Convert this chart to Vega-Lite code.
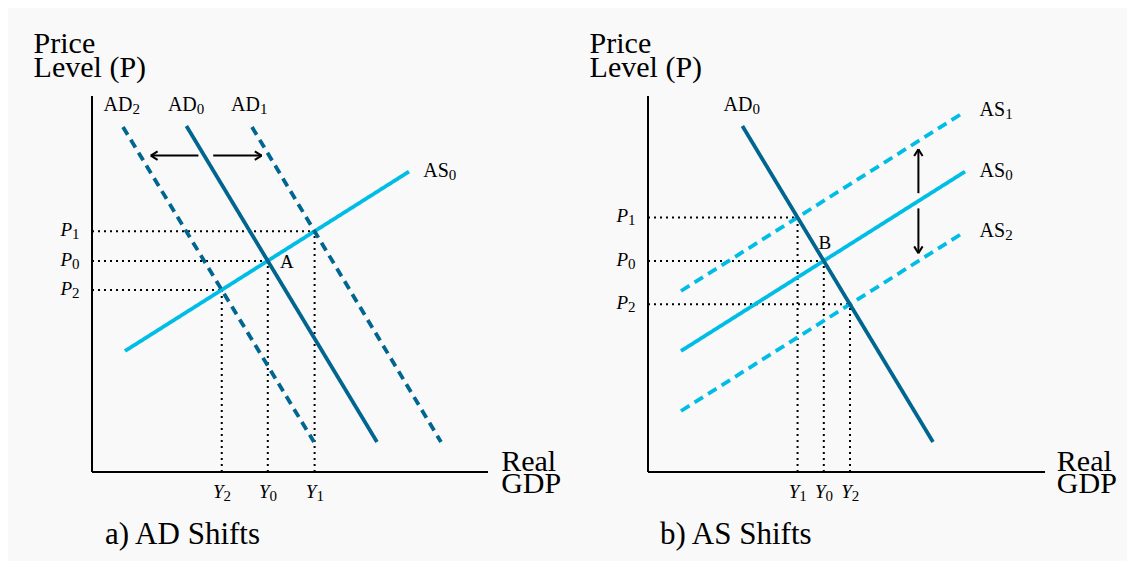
{
  "$schema": "https://vega.github.io/schema/vega-lite/v6.json",
  "background": "#ffffff",
  "padding": 8,
  "spacing": 0,
  "bounds": "flush",
  "config": {
    "view": {"stroke": null, "fill": "#f9f9f9"},
    "font": "Liberation Serif",
    "text": {"font": "Liberation Serif", "color": "#000000"}
  },
  "data": {
    "values": [
      {"panel": "a", "group": "guide", "x": 0, "y": 60.16, "x2": 55.65, "y2": 60.16},
      {"panel": "a", "group": "guide", "x": 0, "y": 52.77, "x2": 43.95, "y2": 52.77},
      {"panel": "a", "group": "guide", "x": 0, "y": 45.52, "x2": 32.44, "y2": 45.52},
      {"panel": "a", "group": "guide", "x": 55.65, "y": 0, "x2": 55.65, "y2": 60.16},
      {"panel": "a", "group": "guide", "x": 43.95, "y": 0, "x2": 43.95, "y2": 52.77},
      {"panel": "a", "group": "guide", "x": 32.44, "y": 0, "x2": 32.44, "y2": 45.52},
      {"panel": "a", "group": "curve", "series": "AS0", "x": 8.25, "y": 30.25, "x2": 79.25, "y2": 75.1},
      {"panel": "a", "group": "curve", "series": "AD2", "x": 7.75, "y": 86.25, "x2": 55.5, "y2": 7.5},
      {"panel": "a", "group": "curve", "series": "AD1", "x": 40, "y": 86.25, "x2": 87.25, "y2": 7.5},
      {"panel": "a", "group": "curve", "series": "AD0", "x": 23.6, "y": 86.5, "x2": 71.25, "y2": 7.5},
      {"panel": "a", "group": "frame", "x": 0, "y": 0, "x2": 0, "y2": 94},
      {"panel": "a", "group": "frame", "x": 0, "y": 0, "x2": 99, "y2": 0},
      {"panel": "a", "group": "arrow", "x": 26.6, "y": 79.1, "x2": 14.7, "y2": 79.1},
      {"panel": "a", "group": "arrow", "x": 14.7, "y": 79.1, "x2": 16.4, "y2": 80.15},
      {"panel": "a", "group": "arrow", "x": 14.7, "y": 79.1, "x2": 16.4, "y2": 78.05},
      {"panel": "a", "group": "arrow", "x": 30.3, "y": 79.1, "x2": 42.4, "y2": 79.1},
      {"panel": "a", "group": "arrow", "x": 42.4, "y": 79.1, "x2": 40.7, "y2": 80.15},
      {"panel": "a", "group": "arrow", "x": 42.4, "y": 79.1, "x2": 40.7, "y2": 78.05},

      {"panel": "b", "group": "guide", "x": 0, "y": 63.64, "x2": 37.39, "y2": 63.64},
      {"panel": "b", "group": "guide", "x": 0, "y": 52.77, "x2": 43.95, "y2": 52.77},
      {"panel": "b", "group": "guide", "x": 0, "y": 41.91, "x2": 50.5, "y2": 41.91},
      {"panel": "b", "group": "guide", "x": 37.39, "y": 0, "x2": 37.39, "y2": 63.64},
      {"panel": "b", "group": "guide", "x": 43.95, "y": 0, "x2": 43.95, "y2": 52.77},
      {"panel": "b", "group": "guide", "x": 50.5, "y": 0, "x2": 50.5, "y2": 41.91},
      {"panel": "b", "group": "curve", "series": "AS1", "x": 8.25, "y": 45.25, "x2": 79.25, "y2": 90.1},
      {"panel": "b", "group": "curve", "series": "AS2", "x": 8.25, "y": 15.25, "x2": 79.25, "y2": 60.1},
      {"panel": "b", "group": "curve", "series": "AS0", "x": 8.25, "y": 30.25, "x2": 79.25, "y2": 75.1},
      {"panel": "b", "group": "curve", "series": "AD0", "x": 23.6, "y": 86.5, "x2": 71.25, "y2": 7.5},
      {"panel": "b", "group": "frame", "x": 0, "y": 0, "x2": 0, "y2": 94},
      {"panel": "b", "group": "frame", "x": 0, "y": 0, "x2": 99.25, "y2": 0},
      {"panel": "b", "group": "arrow", "x": 67.6, "y": 69.7, "x2": 67.6, "y2": 80.7},
      {"panel": "b", "group": "arrow", "x": 67.6, "y": 80.7, "x2": 66.55, "y2": 79.0},
      {"panel": "b", "group": "arrow", "x": 67.6, "y": 80.7, "x2": 68.65, "y2": 79.0},
      {"panel": "b", "group": "arrow", "x": 67.6, "y": 65.9, "x2": 67.6, "y2": 54.7},
      {"panel": "b", "group": "arrow", "x": 67.6, "y": 54.7, "x2": 66.55, "y2": 56.4},
      {"panel": "b", "group": "arrow", "x": 67.6, "y": 54.7, "x2": 68.65, "y2": 56.4},

      {"panel": "a", "group": "label", "role": "curve", "x": 10.1, "y": 90.3, "text": "AD", "sub": "2"},
      {"panel": "a", "group": "label", "role": "curve", "x": 26.2, "y": 90.3, "text": "AD", "sub": "0"},
      {"panel": "a", "group": "label", "role": "curve", "x": 42, "y": 90.3, "text": "AD", "sub": "1"},
      {"panel": "a", "group": "label", "role": "curve", "x": 89.2, "y": 73.7, "text": "AS", "sub": "0"},
      {"panel": "a", "group": "label", "role": "tick", "x": -5, "y": 58.9, "text": "P", "sub": "1"},
      {"panel": "a", "group": "label", "role": "tick", "x": -5, "y": 51.5, "text": "P", "sub": "0"},
      {"panel": "a", "group": "label", "role": "tick", "x": -5, "y": 44.27, "text": "P", "sub": "2"},
      {"panel": "a", "group": "label", "role": "tick", "x": 32.9, "y": -6.6, "text": "Y", "sub": "2"},
      {"panel": "a", "group": "label", "role": "tick", "x": 44.4, "y": -6.6, "text": "Y", "sub": "0"},
      {"panel": "a", "group": "label", "role": "tick", "x": 56.1, "y": -6.6, "text": "Y", "sub": "1"},
      {"panel": "a", "group": "label", "role": "point", "x": 47, "y": 51.1, "text": "A"},
      {"panel": "a", "group": "label", "role": "axis", "x": -14.6, "y": 104.7, "text": "Price"},
      {"panel": "a", "group": "label", "role": "axis", "x": -14.6, "y": 98.8, "text": "Level (P)"},
      {"panel": "a", "group": "label", "role": "axis", "x": 102.3, "y": 0.3, "text": "Real"},
      {"panel": "a", "group": "label", "role": "axis", "x": 102.3, "y": -5.3, "text": "GDP"},
      {"panel": "a", "group": "label", "role": "title", "x": 3.25, "y": -18, "text": "a) AD Shifts"},

      {"panel": "b", "group": "label", "role": "curve", "x": 26.1, "y": 90.3, "text": "AD", "sub": "0"},
      {"panel": "b", "group": "label", "role": "curve", "x": 89.3, "y": 89, "text": "AS", "sub": "1"},
      {"panel": "b", "group": "label", "role": "curve", "x": 89.3, "y": 73.7, "text": "AS", "sub": "0"},
      {"panel": "b", "group": "label", "role": "curve", "x": 89.3, "y": 58.8, "text": "AS", "sub": "2"},
      {"panel": "b", "group": "label", "role": "tick", "x": -5, "y": 62.4, "text": "P", "sub": "1"},
      {"panel": "b", "group": "label", "role": "tick", "x": -5, "y": 51.5, "text": "P", "sub": "0"},
      {"panel": "b", "group": "label", "role": "tick", "x": -5, "y": 40.66, "text": "P", "sub": "2"},
      {"panel": "b", "group": "label", "role": "tick", "x": 37.84, "y": -6.6, "text": "Y", "sub": "1"},
      {"panel": "b", "group": "label", "role": "tick", "x": 44.4, "y": -6.6, "text": "Y", "sub": "0"},
      {"panel": "b", "group": "label", "role": "tick", "x": 50.95, "y": -6.6, "text": "Y", "sub": "2"},
      {"panel": "b", "group": "label", "role": "point", "x": 42.6, "y": 55.7, "text": "B"},
      {"panel": "b", "group": "label", "role": "axis", "x": -14.6, "y": 104.7, "text": "Price"},
      {"panel": "b", "group": "label", "role": "axis", "x": -14.6, "y": 98.8, "text": "Level (P)"},
      {"panel": "b", "group": "label", "role": "axis", "x": 102.2, "y": 0.3, "text": "Real"},
      {"panel": "b", "group": "label", "role": "axis", "x": 102.2, "y": -5.3, "text": "GDP"},
      {"panel": "b", "group": "label", "role": "title", "x": 3.0, "y": -18, "text": "b) AS Shifts"}
    ]
  },
  "hconcat": [
    {
      "width": 556,
      "height": 553,
      "transform": [{"filter": "datum.panel === 'a'"}],
      "encoding": {
        "x": {"field": "x", "type": "quantitative", "scale": {"domain": [-21, 118], "nice": false, "zero": false}, "axis": null},
        "y": {"field": "y", "type": "quantitative", "scale": {"domain": [-22.25, 116], "nice": false, "zero": false}, "axis": null}
      },
      "layer": [
        {
          "transform": [{"filter": "datum.group === 'guide'"}],
          "mark": {"type": "rule", "strokeWidth": 2, "strokeCap": "butt", "strokeDash": [2, 4], "color": "#000000"},
          "encoding": {"x2": {"field": "x2"}, "y2": {"field": "y2"}}
        },
        {
          "transform": [{"filter": "datum.group === 'curve'"}],
          "mark": {"type": "rule", "strokeWidth": 3.8, "strokeCap": "butt"},
          "encoding": {
            "x2": {"field": "x2"}, "y2": {"field": "y2"},
            "color": {"field": "series", "type": "nominal", "legend": null,
              "scale": {"domain": ["AS0", "AS1", "AS2", "AD0", "AD1", "AD2"], "range": ["#00bde6", "#00bde6", "#00bde6", "#00668f", "#00668f", "#00668f"]}},
            "strokeDash": {"field": "series", "type": "nominal", "legend": null,
              "scale": {"domain": ["AS0", "AS1", "AS2", "AD0", "AD1", "AD2"], "range": [[1, 0], [10, 6], [10, 6], [1, 0], [9, 6], [9, 6]]}}
          }
        },
        {
          "transform": [{"filter": "datum.group === 'frame' || datum.group === 'arrow'"}],
          "mark": {"type": "rule", "strokeWidth": 2, "strokeCap": "butt", "color": "#000000"},
          "encoding": {"x2": {"field": "x2"}, "y2": {"field": "y2"}}
        },
        {
          "transform": [{"filter": "datum.role === 'curve'"}],
          "mark": {"type": "text", "align": "right", "baseline": "alphabetic", "fontSize": 20},
          "encoding": {"text": {"field": "text"}}
        },
        {
          "transform": [{"filter": "datum.role === 'tick'"}],
          "mark": {"type": "text", "align": "right", "baseline": "alphabetic", "fontSize": 19, "fontStyle": "italic"},
          "encoding": {"text": {"field": "text"}}
        },
        {
          "transform": [{"filter": "datum.role === 'curve' || datum.role === 'tick'"}],
          "mark": {"type": "text", "align": "left", "baseline": "alphabetic", "fontSize": 15, "dy": 3},
          "encoding": {"text": {"field": "sub"}}
        },
        {
          "transform": [{"filter": "datum.role === 'point'"}],
          "mark": {"type": "text", "align": "left", "baseline": "alphabetic", "fontSize": 19},
          "encoding": {"text": {"field": "text"}}
        },
        {
          "transform": [{"filter": "datum.role === 'axis'"}],
          "mark": {"type": "text", "align": "left", "baseline": "alphabetic", "fontSize": 30},
          "encoding": {"text": {"field": "text"}}
        },
        {
          "transform": [{"filter": "datum.role === 'title'"}],
          "mark": {"type": "text", "align": "left", "baseline": "alphabetic", "fontSize": 31},
          "encoding": {"text": {"field": "text"}}
        }
      ]
    },
    {
      "width": 563,
      "height": 553,
      "transform": [{"filter": "datum.panel === 'b'"}],
      "encoding": {
        "x": {"field": "x", "type": "quantitative", "scale": {"domain": [-21, 119.75], "nice": false, "zero": false}, "axis": null},
        "y": {"field": "y", "type": "quantitative", "scale": {"domain": [-22.25, 116], "nice": false, "zero": false}, "axis": null}
      },
      "layer": [
        {
          "transform": [{"filter": "datum.group === 'guide'"}],
          "mark": {"type": "rule", "strokeWidth": 2, "strokeCap": "butt", "strokeDash": [2, 4], "color": "#000000"},
          "encoding": {"x2": {"field": "x2"}, "y2": {"field": "y2"}}
        },
        {
          "transform": [{"filter": "datum.group === 'curve'"}],
          "mark": {"type": "rule", "strokeWidth": 3.8, "strokeCap": "butt"},
          "encoding": {
            "x2": {"field": "x2"}, "y2": {"field": "y2"},
            "color": {"field": "series", "type": "nominal", "legend": null,
              "scale": {"domain": ["AS0", "AS1", "AS2", "AD0", "AD1", "AD2"], "range": ["#00bde6", "#00bde6", "#00bde6", "#00668f", "#00668f", "#00668f"]}},
            "strokeDash": {"field": "series", "type": "nominal", "legend": null,
              "scale": {"domain": ["AS0", "AS1", "AS2", "AD0", "AD1", "AD2"], "range": [[1, 0], [10, 6], [10, 6], [1, 0], [9, 6], [9, 6]]}}
          }
        },
        {
          "transform": [{"filter": "datum.group === 'frame' || datum.group === 'arrow'"}],
          "mark": {"type": "rule", "strokeWidth": 2, "strokeCap": "butt", "color": "#000000"},
          "encoding": {"x2": {"field": "x2"}, "y2": {"field": "y2"}}
        },
        {
          "transform": [{"filter": "datum.role === 'curve'"}],
          "mark": {"type": "text", "align": "right", "baseline": "alphabetic", "fontSize": 20},
          "encoding": {"text": {"field": "text"}}
        },
        {
          "transform": [{"filter": "datum.role === 'tick'"}],
          "mark": {"type": "text", "align": "right", "baseline": "alphabetic", "fontSize": 19, "fontStyle": "italic"},
          "encoding": {"text": {"field": "text"}}
        },
        {
          "transform": [{"filter": "datum.role === 'curve' || datum.role === 'tick'"}],
          "mark": {"type": "text", "align": "left", "baseline": "alphabetic", "fontSize": 15, "dy": 3},
          "encoding": {"text": {"field": "sub"}}
        },
        {
          "transform": [{"filter": "datum.role === 'point'"}],
          "mark": {"type": "text", "align": "left", "baseline": "alphabetic", "fontSize": 19},
          "encoding": {"text": {"field": "text"}}
        },
        {
          "transform": [{"filter": "datum.role === 'axis'"}],
          "mark": {"type": "text", "align": "left", "baseline": "alphabetic", "fontSize": 30},
          "encoding": {"text": {"field": "text"}}
        },
        {
          "transform": [{"filter": "datum.role === 'title'"}],
          "mark": {"type": "text", "align": "left", "baseline": "alphabetic", "fontSize": 31},
          "encoding": {"text": {"field": "text"}}
        }
      ]
    }
  ]
}
